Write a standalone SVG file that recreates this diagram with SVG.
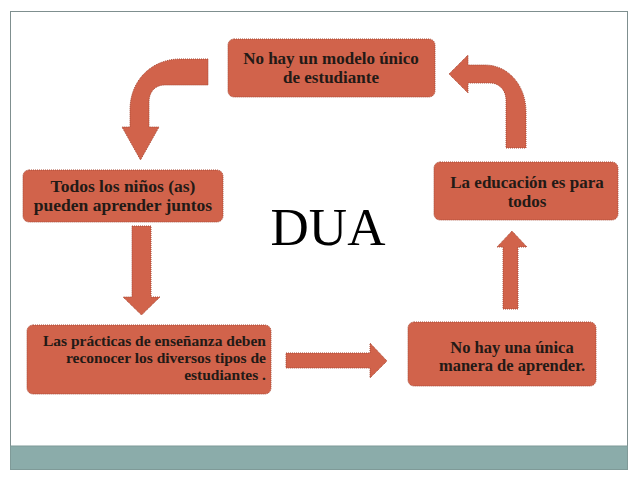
<svg xmlns="http://www.w3.org/2000/svg" width="638" height="479" viewBox="0 0 638 479">
<style>
.box{fill:#D1634B;stroke:#A84A36;stroke-width:1;stroke-dasharray:1 1}
.arr{fill:#D1634B;stroke:#A84A36;stroke-width:1;stroke-dasharray:1 1}
.t{font-family:"Liberation Serif","Times New Roman",serif;font-weight:bold;fill:#231a16}
.c{text-anchor:middle}
.r{text-anchor:end}
</style>
<rect x="0" y="0" width="638" height="479" fill="#ffffff"/>
<rect x="10.5" y="11.5" width="617" height="458" fill="#ffffff" stroke="#7f8f8f" stroke-width="1"/>
<rect x="10.5" y="446" width="617" height="23.5" fill="#8BACAA" stroke="#7f9a98" stroke-width="1"/>
<g id="connectors">
<path class="arr" d="M208,59 L180,59 C152,59 130,80 130,110 L130,127 L122,127 L140.5,160 L159,127 L149,127 L149,102 C149,92 155,85 165,85 L208,85 Z"/>
<path class="arr" d="M132,226 L151,226 L151,297 L160,297 L141.5,315 L123,297 L132,297 Z"/>
<path class="arr" d="M286,353 L370,353 L370,343 L387,361 L370,378 L370,368 L286,368 Z"/>
<path class="arr" d="M503,309 L518,309 L518,247 L527,247 L512,231 L497,247 L503,247 Z"/>
<path class="arr" d="M506,148 L526,148 L526,112 C526,85 508,65 485,65 L468,65 L468,55 L449,74 L468,93 L468,83 L490,83 C499,83 506,90 506,100 Z"/>
</g>
<g id="n1">
<rect class="box" x="228" y="39" width="207" height="58" rx="6"/>
<text class="t c" x="331" y="64" font-size="17">No hay un modelo único</text>
<text class="t c" x="331" y="83" font-size="17">de estudiante</text>
</g>
<g id="n2">
<rect class="box" x="23" y="170" width="200" height="52" rx="6"/>
<text class="t c" x="123" y="192" font-size="17.5">Todos los niños (as)</text>
<text class="t c" x="123" y="211" font-size="17.5">pueden aprender juntos</text>
</g>
<g id="n3">
<rect class="box" x="434" y="162" width="184" height="58" rx="6"/>
<text class="t c" x="527" y="188" font-size="17">La educación es para</text>
<text class="t c" x="527" y="207" font-size="17">todos</text>
</g>
<g id="n4">
<rect class="box" x="27" y="325" width="244" height="69" rx="6"/>
<text class="t r" x="266" y="346" font-size="15.5">Las prácticas de enseñanza deben</text>
<text class="t r" x="266" y="363" font-size="15.5">reconocer los diversos tipos de</text>
<text class="t r" x="266" y="380" font-size="15.5">estudiantes .</text>
</g>
<g id="n5">
<rect class="box" x="408" y="322" width="188" height="64" rx="6"/>
<text class="t c" x="512" y="353" font-size="16.5">No hay una única</text>
<text class="t c" x="512" y="371" font-size="16.5">manera de aprender.</text>
</g>
<g id="title">
<text x="328" y="245" font-size="53" text-anchor="middle" font-family="'Liberation Serif','Times New Roman',serif" fill="#000000">DUA</text>
</g>
</svg>
